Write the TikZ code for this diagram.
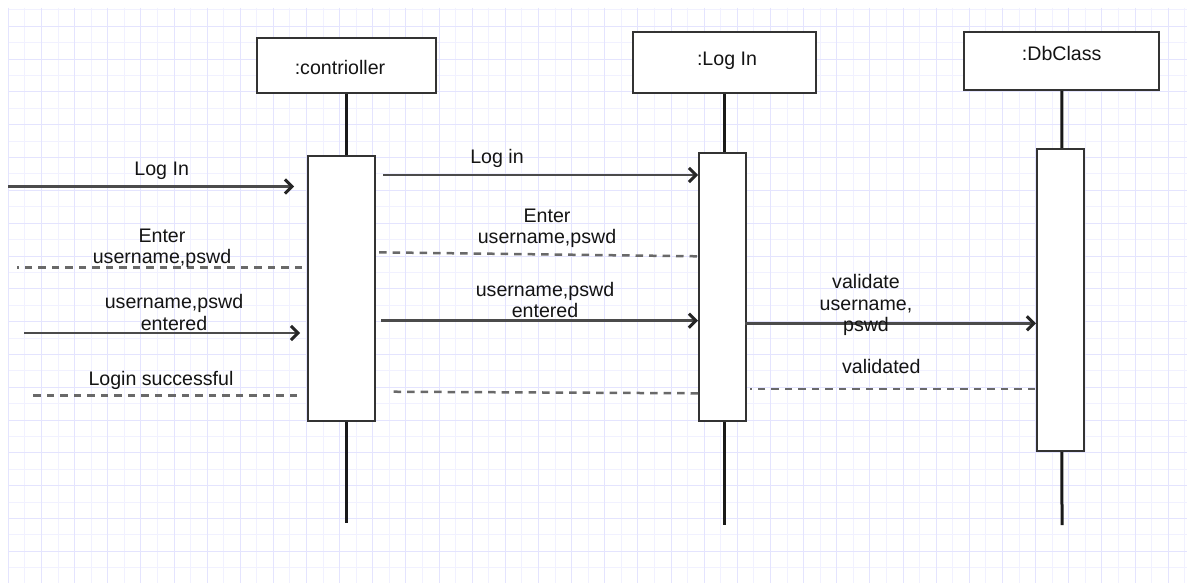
\documentclass[tikz,border=0pt]{standalone}
\usepackage{fontspec}
\setmainfont{Liberation Sans}
\usetikzlibrary{arrows.meta}
\definecolor{gridA}{RGB}{241,241,255}
\definecolor{gridB}{RGB}{228,228,254}
\definecolor{boxline}{RGB}{51,51,51}
\definecolor{msgline}{RGB}{75,75,75}
\definecolor{dashline}{RGB}{105,105,105}
\definecolor{txt}{RGB}{20,20,20}
\begin{document}
\begin{tikzpicture}[x=1pt,y=-1pt,
  headbox/.style={draw=boxline,line width=2pt,fill=white,inner sep=0pt},
  actbox/.style={draw=boxline,line width=2pt,fill=white,inner sep=0pt},
  lifeline/.style={draw=black!90,line width=3pt},
  msg/.style={draw=msgline,line width=2.6pt,-{Straight Barb[length=7pt,width=14pt,line width=3pt,color=black!85]}},
  reply/.style={draw=dashline,line width=2.5pt,dash pattern=on 7.5pt off 6pt},
  lbl/.style={text=txt,font=\fontsize{19.6}{21.5}\selectfont,inner sep=0pt,align=center},
  gridlight/.style={draw=gridA,line width=1pt},
  griddark/.style={draw=gridB,line width=1pt},
]
\useasboundingbox[fill=white] (0,0) rectangle (1187,583);
% grid
\foreach \k in {1,3,...,71} {\draw[gridlight] ({8.3+16.57*\k},8) -- ({8.3+16.57*\k},583);}
\foreach \k in {0,2,...,34} {\draw[gridlight] (8,{10+16.4*\k}) -- (1187,{10+16.4*\k});}
\foreach \k in {0,2,...,70} {\draw[griddark] ({8.3+16.57*\k},8) -- ({8.3+16.57*\k},583);}
\foreach \k in {1,3,...,33} {\draw[griddark] (8,{10+16.4*\k}) -- (1187,{10+16.4*\k});}

% heads
\node[headbox,minimum width=178.7pt,minimum height=55pt] (hC) at (346.7,65.8) {};
\node[headbox,minimum width=182.7pt,minimum height=61pt] (hL) at (724.3,62.2) {};
\node[headbox,minimum width=195pt,minimum height=58.3pt] (hD) at (1061.8,60.8) {};
\node[lbl,anchor=base] (tC) at (340,75) {:contrioller};
\node[lbl,anchor=base] (tL) at (727,66) {:Log In};
\node[lbl,anchor=base] (tD) at (1061.7,61) {:DbClass};

% lifelines
\coordinate (eC) at (346.7,522.7);
\coordinate (eL) at (724.3,525);
\coordinate (eD) at (1062,525);
\draw[lifeline] (hC.south) -- (eC);
\draw[lifeline] (hL.south) -- (eL);
\draw[lifeline] (hD.south) -- (eD);

% activations
\node[actbox,minimum width=66.7pt,minimum height=265.3pt] (aC) at (341.65,288.35) {};
\node[actbox,minimum width=46.7pt,minimum height=267.7pt] (aL) at (722.65,287.15) {};
\node[actbox,minimum width=46.7pt,minimum height=301.7pt] (aD) at (1060.65,299.85) {};

% left messages
\coordinate (m1a) at (8,186.5);   \coordinate (m1b) at (294,186.5);
\draw[msg] (m1a) -- (m1b);
\node[lbl,anchor=base] (l1) at (161.7,175.7) {Log In};

\coordinate (m2a) at (302,267.5); \coordinate (m2b) at (17,267.5);
\draw[reply] (m2a) -- (m2b);
\node[lbl] (l2) at (162,248.5) {Enter\\username,pswd};

\coordinate (m3a) at (24,333);    \coordinate (m3b) at (300,333);
\draw[msg] (m3a) -- (m3b);
\node[lbl] (l3) at (174,312.6) {username,pswd\\entered};

\coordinate (m4a) at (297,395.5); \coordinate (m4b) at (30,395.5);
\draw[reply] (m4a) -- (m4b);
\node[lbl,anchor=base] (l4) at (161,385) {Login successful};

% middle messages
\coordinate (m5a) at (383,175);   \coordinate (m5b) at (698,175);
\draw[msg] (m5a) -- (m5b);
\node[lbl,anchor=base] (l5) at (497,164) {Log in};

\coordinate (m6a) at (697,256.3); \coordinate (m6b) at (376,252.3);
\draw[reply] (m6a) -- (m6b);
\node[lbl] (l6) at (547,228.5) {Enter\\username,pswd};

\coordinate (m7a) at (381,320.7); \coordinate (m7b) at (698,320.7);
\draw[msg] (m7a) -- (m7b);
\node[lbl] (l7) at (545,300) {username,pswd\\entered};

\coordinate (m8a) at (698,393.3); \coordinate (m8b) at (388,391.7);
\draw[reply] (m8a) -- (m8b);

% right messages
\coordinate (m9a) at (745,323.3); \coordinate (m9b) at (1036,323.3);
\draw[msg] (m9a) -- (m9b);
\node[lbl] (l9) at (866,305) {validate\\username,\\pswd};

\coordinate (m10a) at (1035,389); \coordinate (m10b) at (750,389);
\draw[reply] (m10a) -- (m10b);
\node[lbl,anchor=base] (l10) at (881.3,373.3) {validated};
\end{tikzpicture}
\end{document}
